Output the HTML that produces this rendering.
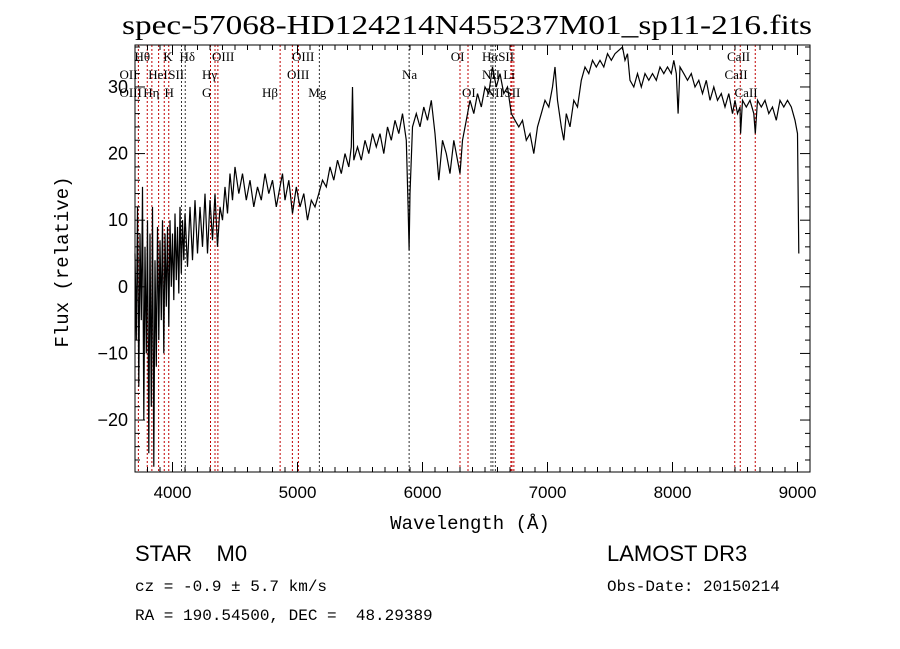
<!DOCTYPE html>
<html><head><meta charset="utf-8">
<style>
html,body{margin:0;padding:0;background:#fff;}
svg{display:block;}
</style></head>
<body>
<svg id="chart" width="900" height="649" xmlns="http://www.w3.org/2000/svg" font-family="Liberation Sans, sans-serif">
<rect width="900" height="649" fill="#fff"/>
<text x="467" y="34" text-anchor="middle" font-family="Liberation Serif, serif" font-size="27" font-weight="normal" textLength="690" lengthAdjust="spacingAndGlyphs">spec-57068-HD124214N455237M01_sp11-216.fits</text>
<g id="lines"></g>
<g id="labels" font-family="Liberation Serif, serif" font-size="13"></g>
<path id="spec" fill="none" stroke="#000" stroke-width="1.2"/>
<g id="axes"></g>
<text x="470" y="529" text-anchor="middle" font-family="Liberation Mono, monospace" font-size="19">Wavelength (Å)</text>
<text transform="translate(68,262) rotate(-90)" text-anchor="middle" font-family="Liberation Mono, monospace" font-size="19">Flux (relative)</text>
<g font-family="Liberation Sans, sans-serif">
<text x="135" y="561" font-size="22">STAR&#160;&#160;&#160;&#160;M0</text>
<text x="607" y="561" font-size="22">LAMOST DR3</text>
</g>
<g font-family="Liberation Mono, monospace" font-size="16">
<text x="135" y="591">cz = -0.9 ± 5.7 km/s</text>
<text x="607" y="591">Obs-Date: 20150214</text>
<text x="135" y="620" xml:space="preserve">RA = 190.54500, DEC =  48.29389</text>
</g>
</svg>
<script>
const wave = [3700,3710,3720,3730,3740,3750,3760,3770,3780,3790,3800,3810,3820,3830,3840,3850,3860,3870,3880,3890,3900,3910,3920,3930,3940,3950,3960,3970,3980,3990,4000,4010,4020,4030,4040,4050,4060,4070,4080,4090,4100,
4120,4140,4160,4180,4200,4220,4240,4260,4280,4300,4320,4340,4360,4380,4400,4420,4440,4460,4480,4500,
4530,4560,4590,4620,4650,4680,4710,4740,4770,4800,4830,4860,4880,4900,4930,4960,4990,5020,5050,5080,5110,5140,5170,5200,5230,5260,5290,5320,5350,5380,5410,5430,5440,5450,5480,5510,5540,5570,5600,5630,5660,5690,5720,5750,5780,5810,5840,5870,5885,5893,5900,5920,5950,5980,6010,6040,6070,6100,6130,6160,6190,6220,6250,6280,6300,6320,6350,6380,6410,6440,6470,6500,6530,6560,6590,6620,6650,6680,6710,6740,6770,6800,6830,6860,6890,6920,6950,6980,7010,7040,7060,7080,7110,7130,7150,7180,7210,7240,7270,7300,7330,7360,7390,7420,7450,7480,7510,7540,7570,7600,7620,7640,7660,7690,7720,7750,7780,7810,7840,7870,7900,7930,7960,7990,8010,8030,8045,8060,8090,8120,8150,8180,8210,8240,8270,8300,8330,8360,8390,8420,8450,8480,8500,8520,8540,8545,8560,8590,8620,8650,8662,8680,8710,8740,8770,8800,8830,8860,8890,8920,8950,8980,9000,9010];
const flux = [5,-8,12,-15,8,-5,15,-20,6,-10,10,-25,8,-18,12,-27,4,-12,9,-8,7,-5,10,-10,8,-3,9,-6,10,0,8,-2,11,1,9,-1,12,2,10,4,11,
3,12,4,13,5,12,6,14,5,13,7,14,6,12,10,15,11,17,13,18,
14,17,13,16,12,15,13,17,14,16,12,15,17,13,16,11,15,12,14,10,13,12,14,16,15,18,16,19,17,20,18,21,30,19,21,19,22,20,23,21,23,20,24,22,25,23,26,22,12,5.5,14,24,26,24,27,25,28,23,16,22,20,17,22,19,17,22,25,28,26,29,27,30,29,33,30,32,29,30,26,25,24,25,22,23,20,24,26,28,27,30,33,28,24,22,26,24,28,27,31,33,32,34,33,34,33,35,34,35,35.5,36,34,35,31,30,32,30,32,31,32,31,33,32,33,32,34,32,26,33,32,31,32,30,31,29,31,28,30,28,29,27,29,26,28,26,27,23,28,27,28,26,23,28,27,28,26,27,25,28,27,28,27,25,23,5];
const lineWaves = [3727,3798,3835,3889,3934,3970,4072,4102,4304,4340,4363,4861,4959,5007,5175,5893,6300,6364,6548,6563,6583,6707,6716,6731,8498,8542,8662];
const lineBlack = [0,0,0,0,0,0,1,1,0,0,0,0,0,0,1,1,0,0,1,1,1,0,0,0,0,0,0];
const labelText = ["Hθ","K","Hδ","OIII","OIII","OI","HαSII","CaII","OII","HeI","SII","Hγ","OIII","Na","NII Li","CaII","OIII","Hη","H","G","Hβ","Mg","OI","NII","SII","CaII"];
const labelWave = [3760,3990,4120,4380,5020,6290,6540,8500,3640,3870,4030,4300,4980,5900,6540,8480,3640,3830,4000,4300,4780,5150,6380,6570,6720,8560];
const labelRow = [0,0,0,0,0,0,0,0,1,1,1,1,1,1,1,1,2,2,2,2,2,2,2,2,2,2];
const xTicks = [4000,5000,6000,7000,8000,9000];
const yTicks = [-20,-10,0,10,20,30];

const L=135,R=810,T=45,B=472, XMIN=3700, XMAX=9100, YMIN=-27.8, YMAX=36.3;
const X=w=>L+(w-XMIN)/(XMAX-XMIN)*(R-L);
const Y=v=>B-(v-YMIN)/(YMAX-YMIN)*(B-T);
const NS="http://www.w3.org/2000/svg";
function mk(tag,attrs,parent){const e=document.createElementNS(NS,tag);for(const k in attrs)e.setAttribute(k,attrs[k]);parent.appendChild(e);return e;}

let d="";
for(let i=0;i<wave.length;i++){const x=Math.min(Math.max(X(wave[i]),L),R),y=Math.min(Math.max(Y(flux[i]),T),B);d+=(i?"L":"M")+x.toFixed(1)+" "+y.toFixed(1);}
document.getElementById('spec').setAttribute('d',d);

const lg=document.getElementById('lines');
lineWaves.forEach((w,i)=>{
 const l=mk('line',{x1:X(w),x2:X(w),y1:T,y2:B,stroke:lineBlack[i]?'#333':'#c00000','stroke-width':1,'stroke-dasharray':'2,2'},lg);
 
 
});
const lb=document.getElementById('labels');
labelText.forEach((t,i)=>{
 const e=mk('text',{x:X(labelWave[i])-8,y:61+labelRow[i]*18},lb);
 e.textContent=t;
 
 
});

const ax=document.getElementById('axes');
mk('rect',{x:L,y:T,width:R-L,height:B-T,fill:'none',stroke:'#000','stroke-width':1},ax);
for(let w=3700;w<=9100;w+=100){
 const x=X(w),maj=w%1000===0,len=maj?10:5;
 mk('line',{x1:x,x2:x,y1:B,y2:B-len,stroke:'#000'},ax);
 mk('line',{x1:x,x2:x,y1:T,y2:T+len,stroke:'#000'},ax);
}
xTicks.forEach(w=>{
 const t=mk('text',{x:X(w),y:B+26,'text-anchor':'middle','font-size':17},ax);
 t.textContent=w;
 
 
});
for(let v=-26;v<=36;v+=2){
 const y=Y(v),maj=v%10===0,len=maj?10:5;
 mk('line',{x1:L,x2:L+len,y1:y,y2:y,stroke:'#000'},ax);
 mk('line',{x1:R,x2:R-len,y1:y,y2:y,stroke:'#000'},ax);
}
yTicks.forEach(v=>{
 const t=mk('text',{x:L-7,y:Y(v)+6,'text-anchor':'end','font-size':18},ax);
 t.textContent=v<0?'−'+Math.abs(v):v;
 
 
});
</script>
</body></html>
